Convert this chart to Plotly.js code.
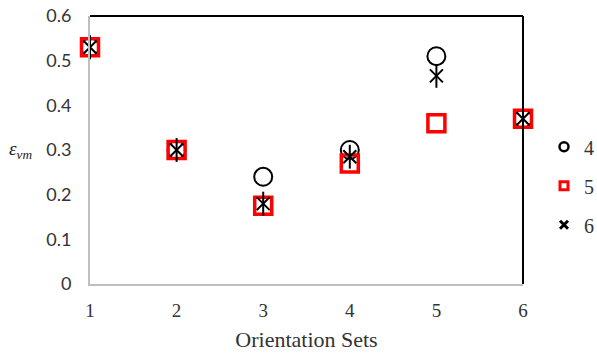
<!DOCTYPE html>
<html>
<head>
<meta charset="utf-8">
<script src="https://cdn.plot.ly/plotly-3.0.1.min.js"></script>
<style>
  html, body { margin: 0; padding: 0; background: #fff; }
  #chart { width: 597px; height: 356px; }
</style>
</head>
<body>
<div id="chart"></div>
<script>
// Orientation sets on the x axis
const orientationSets = [1, 2, 3, 4, 5, 6];
// Von Mises strain for each series
const series4 = [0.53, 0.30, 0.24, 0.30, 0.51, 0.37];
const series5 = [0.53, 0.30, 0.175, 0.27, 0.36, 0.37];
const series6 = [0.53, 0.30, 0.18, 0.285, 0.466, 0.37];
const seriesNames = ['4', '5', '6'];
const yTicks = [0, 0.1, 0.2, 0.3, 0.4, 0.5, 0.6];

const serif = 'Liberation Serif, Times New Roman, serif';
const sans = 'Lato, Carlito, Calibri, sans-serif';

// data markers (legend entries come from the small key traces below)
const traces = [
  {
    x: orientationSets, y: series4, name: seriesNames[0], mode: 'markers',
    type: 'scatter', cliponaxis: false, showlegend: false,
    marker: { symbol: 'circle-open', size: 18, color: '#000', line: { width: 2, color: '#000' } }
  },
  {
    x: orientationSets, y: series5, name: seriesNames[1], mode: 'markers',
    type: 'scatter', cliponaxis: false, showlegend: false,
    marker: { symbol: 'square-open', size: 17, color: '#ff0000', line: { width: 3.5, color: '#ff0000' } }
  },
  {
    x: orientationSets, y: series6, name: seriesNames[2], mode: 'markers',
    type: 'scatter', cliponaxis: false, showlegend: false,
    marker: { symbol: 'x-thin-open', size: 13, color: '#000', line: { width: 2, color: '#000' } }
  },
  {
    // vertical stroke completing the star marker
    x: orientationSets, y: series6, name: seriesNames[2], mode: 'markers',
    type: 'scatter', cliponaxis: false, showlegend: false,
    marker: { symbol: 'line-ns-open', size: 17, color: '#000', line: { width: 2, color: '#000' } }
  },
  // compact legend keys
  {
    x: [null], y: [null], name: seriesNames[0], mode: 'markers', type: 'scatter', legendgroup: 'a',
    marker: { symbol: 'circle-open', size: 9, color: '#000', line: { width: 2.5, color: '#000' } }
  },
  {
    x: [null], y: [null], name: seriesNames[1], mode: 'markers', type: 'scatter', legendgroup: 'b',
    marker: { symbol: 'square-open', size: 8, color: '#ff0000', line: { width: 3, color: '#ff0000' } }
  },
  {
    x: [null], y: [null], name: seriesNames[2], mode: 'markers', type: 'scatter', legendgroup: 'c',
    marker: { symbol: 'x-thin-open', size: 8, color: '#000', line: { width: 3, color: '#000' } }
  }
];

const layout = {
  width: 597, height: 356,
  margin: { l: 90, r: 74, t: 16, b: 72, autoexpand: false },
  paper_bgcolor: '#fff', plot_bgcolor: '#fff',
  font: { family: serif, size: 20, color: '#333' },
  showlegend: true,
  legend: {
    x: 1.0485, y: 0.585, xanchor: 'left', yanchor: 'top',
    tracegroupgap: 10, itemwidth: 30,
    font: { family: serif, size: 20, color: '#333' }
  },
  xaxis: {
    range: [1, 6], tickvals: orientationSets, ticks: '', showgrid: false, zeroline: false,
    showline: true, linecolor: '#bfbfbf', linewidth: 2, ticklabelstandoff: 8,
    tickfont: { family: serif, size: 19, color: '#333' },
    title: { text: 'Orientation Sets', font: { family: serif, size: 22, color: '#333' }, standoff: 12 }
  },
  yaxis: {
    range: [0, 0.6], tickvals: yTicks, ticks: '', showgrid: false, zeroline: false,
    showline: true, linecolor: '#bfbfbf', linewidth: 2, ticklabelstandoff: 13,
    tickfont: { family: sans, size: 18, color: '#333' }
  },
  shapes: [
    { type: 'line', xref: 'paper', yref: 'paper', x0: 0, x1: 1, y0: 1, y1: 1, line: { color: '#000', width: 2 } },
    { type: 'line', xref: 'paper', yref: 'paper', x0: 1, x1: 1, y0: 0, y1: 1, line: { color: '#000', width: 2 } }
  ],
  annotations: [
    {
      text: '<i>ε<sub>vm</sub></i>', xref: 'paper', yref: 'paper',
      x: -0.16, y: 0.5, xanchor: 'center', yanchor: 'middle', showarrow: false,
      font: { family: serif, size: 19, color: '#222' }
    }
  ]
};

Plotly.newPlot('chart', traces, layout, { displayModeBar: false, staticPlot: true });
</script>
</body>
</html>
